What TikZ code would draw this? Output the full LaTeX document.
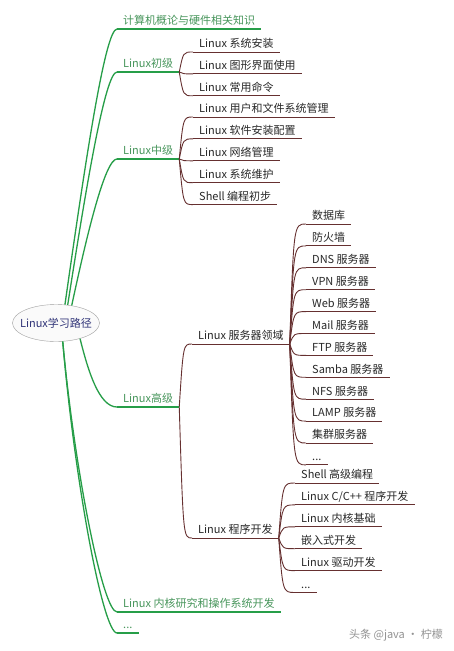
\documentclass[tikz,border=0pt]{standalone}
\usepackage{fontspec}
\setmainfont{Noto Sans CJK SC}
\usetikzlibrary{shapes,positioning,calc}
\definecolor{branchgreen}{RGB}{38,158,72}
\definecolor{topicgreen}{RGB}{72,150,92}
\definecolor{branchbrown}{RGB}{102,48,48}
\definecolor{rootblue}{RGB}{48,52,120}
\definecolor{leafgray}{RGB}{40,40,40}

\tikzset{
  main-link/.style={draw=branchgreen, line width=1.3pt},
  sub-link/.style={draw=branchbrown, line width=0.9pt},
  topic/.style={anchor=south west, inner xsep=6pt, inner ysep=2.5pt,
    text height=8.5pt, text depth=1.5pt},
  main-topic/.style={topic, text=topicgreen,
    append after command={(\tikzlastnode.south west) edge[main-link] (\tikzlastnode.south east)}},
  sub-topic/.style={topic, text=leafgray,
    append after command={(\tikzlastnode.south west) edge[sub-link] (\tikzlastnode.south east)}},
  root-topic/.style={ellipse, draw=gray!75, fill=gray!4, minimum width=87pt,
    minimum height=37pt, inner sep=0pt, text=rootblue},
  listed/.style={below=6.5pt of #1.south west, anchor=north west}
}
\newcommand{\bracelink}[2]{%
  \draw[sub-link] (#1.south east) .. controls ($(#1.south east |- #2.south west)+(4,0)$) .. (#2.south west);}

\begin{document}
\begin{tikzpicture}[x=1pt, y=-1pt, font=\fontsize{11}{13}\selectfont]
\fill[white] (0,0) rectangle (454,651);
\useasboundingbox (0,0) rectangle (454,651);

% root
\node[root-topic] (root) at (56,323) {\makebox[0pt]{Linux学习路径}};

% first level
\node[main-topic] (computer) at (117,29) {计算机概论与硬件相关知识};
\node[main-topic] (junior) at (117,72) {Linux初级};
\node[main-topic] (middle) at (117,159) {Linux中级};
\node[main-topic] (senior) at (117,407) {Linux高级};
\node[main-topic] (kernel) at (117,612) {Linux 内核研究和操作系统开发};
\node[main-topic] (more) at (117,633) {...};

\draw[main-link] (root.64) .. controls +(20,-140) and +(-12,0) .. (computer.south west);
\draw[main-link] (root.57) .. controls +(18,-115) and +(-12,0) .. (junior.south west);
\draw[main-link] (root.48) .. controls +(15,-70) and +(-12,0) .. (middle.south west);
\draw[main-link] (root.-33) .. controls +(8,32) and +(-18,0) .. (senior.south west);
\draw[main-link] (root.-70) .. controls +(12,130) and +(-14,0) .. (kernel.south west);
\draw[main-link] (root.-70) .. controls +(12,140) and +(-14,0) .. (more.south west);

% Linux初级
\node[sub-topic] (install) at (193,52) {Linux 系统安装};
\node[sub-topic, listed=install] (gui) {Linux 图形界面使用};
\node[sub-topic, listed=gui] (command) {Linux 常用命令};
\foreach \c in {install,gui,command} {\bracelink{junior}{\c}}

% Linux中级
\node[sub-topic] (users) at (193,117) {Linux 用户和文件系统管理};
\node[sub-topic, listed=users] (software) {Linux 软件安装配置};
\node[sub-topic, listed=software] (network) {Linux 网络管理};
\node[sub-topic, listed=network] (upkeep) {Linux 系统维护};
\node[sub-topic, listed=upkeep] (shell) {Shell 编程初步};
\foreach \c in {users,software,network,upkeep,shell} {\bracelink{middle}{\c}}

% Linux高级
\node[sub-topic] (server) at (192,344) {Linux 服务器领域};
\node[sub-topic] (program) at (192,538) {Linux 程序开发};
\foreach \c in {server,program} {\bracelink{senior}{\c}}

% server field
\node[sub-topic] (database) at (306,224) {数据库};
\node[sub-topic, listed=database] (firewall) {防火墙};
\node[sub-topic, listed=firewall] (dns) {DNS 服务器};
\node[sub-topic, listed=dns] (vpn) {VPN 服务器};
\node[sub-topic, listed=vpn] (web) {Web 服务器};
\node[sub-topic, listed=web] (mail) {Mail 服务器};
\node[sub-topic, listed=mail] (ftp) {FTP 服务器};
\node[sub-topic, listed=ftp] (samba) {Samba 服务器};
\node[sub-topic, listed=samba] (nfs) {NFS 服务器};
\node[sub-topic, listed=nfs] (lamp) {LAMP 服务器};
\node[sub-topic, listed=lamp] (cluster) {集群服务器};
\node[sub-topic, listed=cluster] (server-more) {...};
\foreach \c in {database,firewall,dns,vpn,web,mail,ftp,samba,nfs,lamp,cluster,server-more} {\bracelink{server}{\c}}

% program development
\node[sub-topic] (advshell) at (295,483) {Shell 高级编程};
\node[sub-topic, listed=advshell] (cpp) {Linux C/C++ 程序开发};
\node[sub-topic, listed=cpp] (kernelbase) {Linux 内核基础};
\node[sub-topic, listed=kernelbase] (embedded) {嵌入式开发};
\node[sub-topic, listed=embedded] (driver) {Linux 驱动开发};
\node[sub-topic, listed=driver] (program-more) {...};
\foreach \c in {advshell,cpp,kernelbase,embedded,driver,program-more} {\bracelink{program}{\c}}

% watermark
\node[text=gray!85] (mark) at (396,635) {头条 @java · 柠檬};
\end{tikzpicture}
\end{document}
